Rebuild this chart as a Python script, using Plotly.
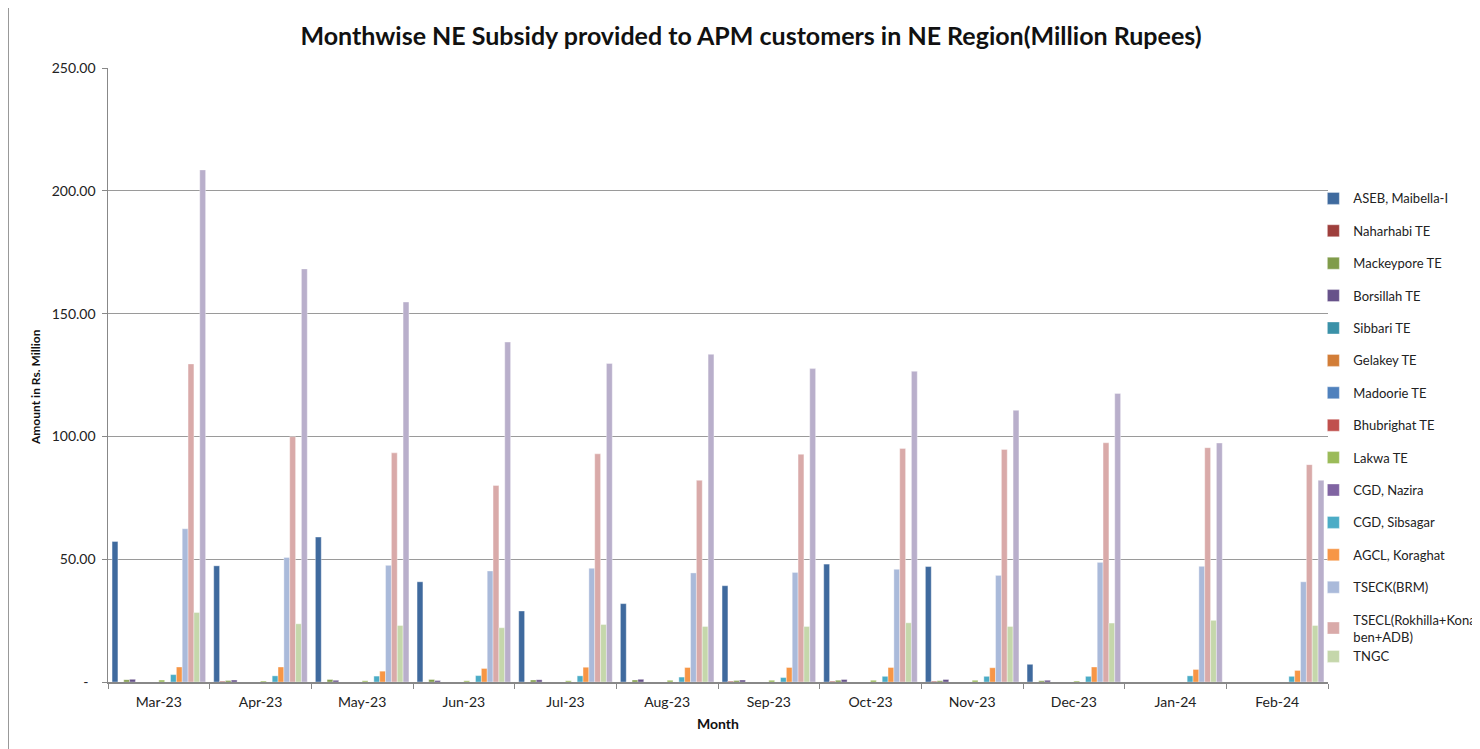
import plotly.graph_objects as go

months = ["Mar-23", "Apr-23", "May-23", "Jun-23", "Jul-23", "Aug-23",
          "Sep-23", "Oct-23", "Nov-23", "Dec-23", "Jan-24", "Feb-24"]

aseb_maibella = [57.2, 47.3, 59.0, 40.8, 28.9, 31.9, 39.2, 48.0, 47.0, 7.2, 0, 0]
naharhabi_te = [0, 0.3, 0, 0, 0, 0, 0.3, 0.3, 0.3, 0, 0, 0]
mackeypore_te = [0.9, 0.6, 1.0, 1.0, 0.8, 0.8, 0.6, 0.7, 0.5, 0.5, 0, 0]
borsillah_te = [1.1, 0.8, 0.7, 0.6, 0.9, 1.1, 0.8, 1.0, 1.0, 0.7, 0, 0]
sibbari_te = [0, 0, 0, 0, 0, 0, 0, 0, 0, 0, 0, 0]
gelakey_te = [0, 0, 0, 0, 0, 0, 0, 0, 0, 0, 0, 0]
madoorie_te = [0, 0, 0, 0, 0, 0, 0, 0, 0, 0, 0, 0]
bhubrighat_te = [0, 0, 0, 0, 0, 0, 0, 0, 0, 0, 0, 0]
lakwa_te = [0.8, 0.4, 0.5, 0.5, 0.5, 0.7, 0.7, 0.7, 0.7, 0.4, 0, 0]
cgd_nazira = [0, 0, 0, 0, 0, 0, 0, 0, 0, 0, 0, 0]
cgd_sibsagar = [3.0, 2.5, 2.4, 2.6, 2.5, 2.0, 1.8, 2.3, 2.3, 2.3, 2.5, 2.3]
agcl_koraghat = [6.1, 6.1, 4.4, 5.5, 6.0, 5.9, 5.9, 5.9, 5.8, 6.1, 5.1, 4.7]
tseck_brm = [62.4, 50.7, 47.5, 45.2, 46.3, 44.4, 44.6, 45.9, 43.4, 48.7, 47.1, 40.8]
tsecl = [129.5, 99.9, 93.3, 80.0, 92.9, 82.1, 92.7, 95.1, 94.7, 97.4, 95.4, 88.5]
tngc = [28.3, 23.7, 23.0, 22.1, 23.4, 22.6, 22.6, 24.1, 22.6, 24.0, 25.1, 23.0]
series16 = [208.5, 168.2, 154.7, 138.4, 129.7, 133.4, 127.6, 126.5, 110.6, 117.5, 97.3, 82.1]

y_tick_vals = [0, 50, 100, 150, 200, 250]
y_tick_text = ["-\u00a0\u00a0\u00a0", "50.00\u00a0", "100.00\u00a0", "150.00\u00a0", "200.00\u00a0", "250.00\u00a0"]

series = [
    ("ASEB, Maibella-I", aseb_maibella, "#3F6A9E", True, "g0"),
    ("Naharhabi TE", naharhabi_te, "#9E3F3C", True, "g1"),
    ("Mackeypore TE", mackeypore_te, "#809C4A", True, "g2"),
    ("Borsillah TE", borsillah_te, "#67528A", True, "g3"),
    ("Sibbari TE", sibbari_te, "#3A91A8", True, "g4"),
    ("Gelakey TE", gelakey_te, "#D27D37", True, "g5"),
    ("Madoorie TE", madoorie_te, "#4F81BD", True, "g6"),
    ("Bhubrighat TE", bhubrighat_te, "#C0504D", True, "g7"),
    ("Lakwa TE", lakwa_te, "#9BBB59", True, "g8"),
    ("CGD, Nazira", cgd_nazira, "#8064A2", True, "g9"),
    ("CGD, Sibsagar", cgd_sibsagar, "#4BACC6", True, "g10"),
    ("AGCL, Koraghat", agcl_koraghat, "#F79646", True, "g11"),
    ("TSECK(BRM)", tseck_brm, "#AABADA", True, "g12"),
    ("TSECL(Rokhilla+Kona<br>ben+ADB)", tsecl, "#D9AAA9", True, "g13"),
    ("TNGC", tngc, "#C5D7AB", True, "g13"),
    ("Series 16", series16, "#B9AFCB", False, "g15"),
]

FONT = "Lato"
W, H = 1500, 741
L, T = 100, 60
PW, PH = 1220, 614

fig = go.Figure()
for name, vals, col, show, grp in series:
    fig.add_trace(go.Bar(
        x=months, y=vals, name=name, legendgroup=grp, showlegend=show,
        marker=dict(color=col, line=dict(color="rgba(255,255,255,0.45)", width=0.8)),
    ))

fig.update_layout(
    width=W, height=H,
    barmode="group", bargap=0.08, bargroupgap=0,
    plot_bgcolor="white", paper_bgcolor="white",
    margin=dict(l=L, r=W - L - PW, t=T, b=H - T - PH),
    font=dict(family=FONT, size=13, color="#222"),
    title=dict(text="<b>Monthwise NE Subsidy provided to APM customers in NE Region(Million Rupees)</b>",
               x=(751 - 8) / W, xanchor="center", y=1 - (36.5 - 8) / H, yanchor="middle",
               font=dict(family=FONT, size=25, color="#111")),
    legend=dict(x=0.988, xanchor="left", y=0.812, yanchor="top",
                font=dict(family=FONT, size=13, color="#222"),
                tracegroupgap=12.5, itemwidth=30, bgcolor="rgba(0,0,0,0)"),
    showlegend=True,
)

fig.update_xaxes(
    title=dict(text="<b>Month</b>", font=dict(family=FONT, size=14, color="#111"), standoff=10),
    showline=True, linecolor="#888", linewidth=2,
    ticks="outside", tickson="boundaries", ticklen=5, tickcolor="#888",
    ticklabelstandoff=6,
    tickfont=dict(family=FONT, size=14, color="#222"),
    showgrid=False,
)
fig.update_yaxes(
    range=[0, 250],
    tickvals=y_tick_vals,
    ticktext=y_tick_text,
    showline=True, linecolor="#888", linewidth=1,
    ticks="outside", ticklen=5, tickcolor="#888",
    tickfont=dict(family=FONT, size=14, color="#222"),
    showgrid=True, gridcolor="#9A9A9A", gridwidth=1,
    zeroline=False,
)

# y-axis title placed as rotated text
fig.add_annotation(text="<b>Amount in Rs. Million</b>", textangle=-90,
                   xref="paper", yref="paper",
                   x=(35 - 8 - L) / PW, y=1 - (387 - 8 - T) / PH,
                   xanchor="center", yanchor="middle", showarrow=False,
                   font=dict(family=FONT, size=12, color="#111"))

# chart-area border on the left edge
fig.add_shape(type="line", xref="paper", yref="paper",
              x0=(0.5 - L) / PW, x1=(0.5 - L) / PW, y0=-(H - T - PH) / PH, y1=(PH + T) / PH,
              line=dict(color="#999", width=1))

fig.write_html("out.html")
